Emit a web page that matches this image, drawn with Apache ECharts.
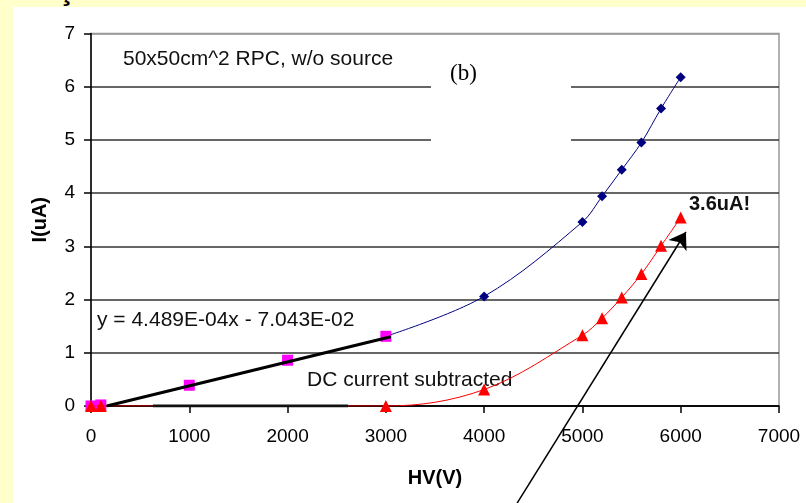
<!DOCTYPE html>
<html>
<head>
<meta charset="utf-8">
<script src="https://cdn.jsdelivr.net/npm/echarts@6/dist/echarts.min.js"></script>
<style>
  html, body { margin: 0; padding: 0; background: #ffffcc; width: 806px; height: 503px; overflow: hidden; }
  #chart { position: absolute; left: 13px; top: 7px; width: 793px; height: 496px; background: #fff; }
  #cut { position: absolute; left: 58px; top: -27px; font: bold 30px "Liberation Sans", Arial, sans-serif; color: #000; }
</style>
</head>
<body>
<div id="cut">ç</div>
<div id="chart"></div>
<script>
  // I-V curve, 50x50cm^2 RPC without source
  const hvRaw = [3000, 4000, 5000, 5200, 5400, 5600, 5800, 6000];
  const iRaw = [1.31, 2.06, 3.46, 3.94, 4.44, 4.95, 5.59, 6.18];
  const hvLow = [0, 100, 1000, 2000, 3000];
  const iLow = [0, 0.02, 0.39, 0.86, 1.31];
  const hvSub = [0, 100, 3000, 4000, 5000, 5200, 5400, 5600, 5800, 6000];
  const iSub = [0, 0, 0, 0.31, 1.33, 1.65, 2.04, 2.48, 3.01, 3.54];
  const fitLine = [[160, 0], [3050, 1.30]];
  const baseLine = [[630, 0], [2615, 0]];
  const arrow = [[4334, -1.83], [6053, 3.27]];
  const xTicks = { min: 0, max: 7000, step: 1000 };
  const yTicks = { min: 0, max: 7, step: 1 };

  const FONT = '"Liberation Sans", Arial, sans-serif';
  const pts = (xs, ys) => xs.map((x, i) => [x, ys[i]]);

  const chart = echarts.init(document.getElementById('chart'));
  chart.setOption({
    animation: false,
    grid: { left: 78, right: 27, top: 26.5, bottom: 97, show: true, borderColor: '#999', borderWidth: 1.5 },
    xAxis: {
      type: 'value', min: xTicks.min, max: xTicks.max, interval: xTicks.step,
      name: 'HV(V)', nameLocation: 'middle', nameGap: 62,
      nameTextStyle: { fontFamily: FONT, fontSize: 20, fontWeight: 'bold', color: '#000' },
      axisLine: { lineStyle: { color: '#000', width: 1.5 } },
      axisTick: { length: 7, lineStyle: { color: '#000', width: 1.5 } },
      axisLabel: { fontFamily: FONT, fontSize: 19, color: '#000', margin: 21, formatter: v => String(v) },
      splitLine: { show: false },
    },
    yAxis: {
      type: 'value', min: yTicks.min, max: yTicks.max, interval: yTicks.step,
      name: 'I(uA)', nameLocation: 'middle', nameGap: 41,
      nameTextStyle: { fontFamily: FONT, fontSize: 20, fontWeight: 'bold', color: '#000' },
      axisLine: { lineStyle: { color: '#000', width: 1.5 } },
      axisTick: { show: true, length: 7, lineStyle: { color: '#000', width: 1.5 } },
      axisLabel: { fontFamily: FONT, fontSize: 19, color: '#000', margin: 16 },
      splitLine: { show: true, lineStyle: { color: ['#000', '#333', '#333', '#333', '#333', '#333', '#333', '#999'], width: 1.5 } },
    },
    graphic: [
      { type: 'rect', z: 1, shape: { x: 418, y: 50, width: 140, height: 95 }, style: { fill: '#fff' } },
      { type: 'text', z: 3, left: 110, top: 42, style: { text: '50x50cm^2 RPC, w/o source', font: '21px ' + FONT, fill: '#111' } },
      { type: 'text', z: 3, left: 437, top: 55, style: { text: '(b)', font: '23px "Liberation Serif", "Times New Roman", serif', fill: '#000' } },
      { type: 'text', z: 3, left: 84, top: 303, style: { text: 'y = 4.489E-04x - 7.043E-02', font: '21px ' + FONT, fill: '#111' } },
      { type: 'text', z: 3, left: 294, top: 363, style: { text: 'DC current subtracted', font: '21px ' + FONT, fill: '#111' } },
      { type: 'text', z: 3, left: 676, top: 187, style: { text: '3.6uA!', font: 'bold 20px ' + FONT, fill: '#111' } },
    ],
    series: [
      { name: 'raw', type: 'line', data: pts(hvRaw, iRaw), smooth: 0.35,
        symbol: 'diamond', symbolSize: 10, itemStyle: { color: '#000080' }, lineStyle: { color: '#000080', width: 1 }, z: 3 },
      { name: 'low', type: 'line', data: pts(hvLow, iLow), symbol: 'rect', symbolSize: 11,
        itemStyle: { color: '#ff00ff' }, lineStyle: { width: 0, opacity: 0 }, z: 3 },
      { name: 'subtracted', type: 'line', data: pts(hvSub, iSub), smooth: 0.35,
        symbol: 'triangle', symbolSize: 12, itemStyle: { color: '#ff0000' }, lineStyle: { color: '#ff0000', width: 1 }, z: 4 },
      { name: 'fit', type: 'line', data: fitLine, symbol: 'none', lineStyle: { color: '#000', width: 3 }, z: 5 },
      { name: 'base', type: 'line', data: baseLine, symbol: 'none', lineStyle: { color: '#111', width: 3 }, z: 5 },
      { name: 'arrow', type: 'lines', coordinateSystem: 'cartesian2d', clip: false, z: 6,
        symbol: ['none', 'arrow'], symbolSize: [12, 16],
        lineStyle: { color: '#000', width: 1.5, opacity: 1 },
        data: [{ coords: arrow }] },
    ],
  });
</script>
</body>
</html>
